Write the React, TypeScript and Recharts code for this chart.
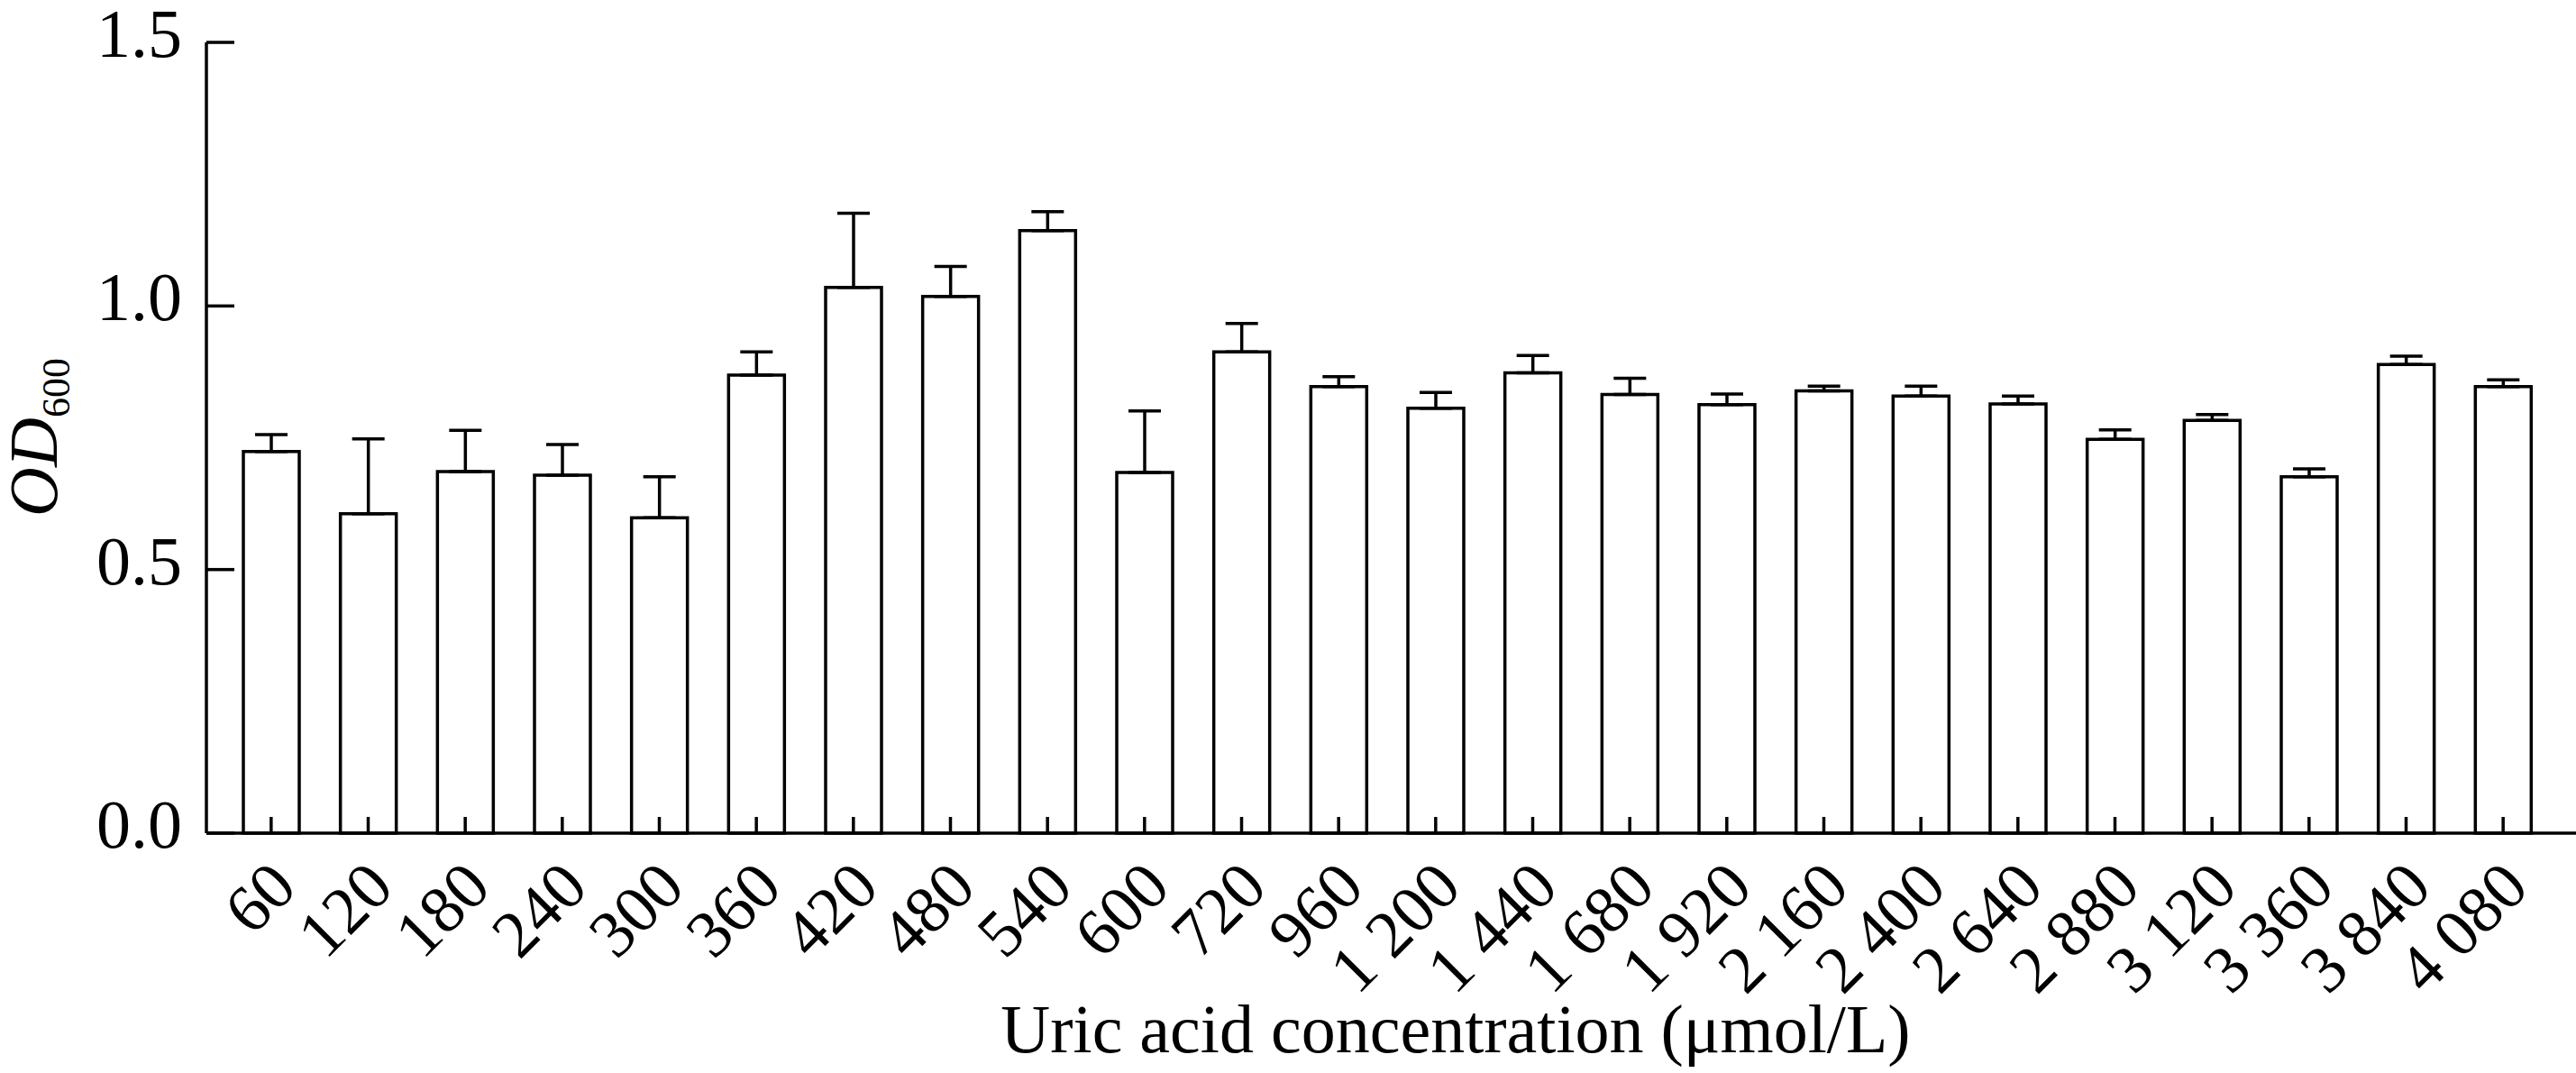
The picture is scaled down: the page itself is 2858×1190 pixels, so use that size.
import React from "react";
import { BarChart, Bar, XAxis, YAxis, ErrorBar } from "recharts";

// uric acid concentration (µmol/L)
const concentrations = [
  "60", "120", "180", "240", "300", "360", "420", "480", "540", "600",
  "720", "960", "1 200", "1 440", "1 680", "1 920", "2 160", "2 400",
  "2 640", "2 880", "3 120", "3 360", "3 840", "4 080",
];

const od600 = [
  0.724, 0.606, 0.686, 0.679, 0.598, 0.869, 1.035, 1.018, 1.143, 0.684,
  0.913, 0.847, 0.806, 0.873, 0.832, 0.813, 0.839, 0.829, 0.814, 0.747,
  0.783, 0.676, 0.889, 0.847,
];

const od600Sd = [
  0.032, 0.142, 0.078, 0.058, 0.078, 0.044, 0.141, 0.057, 0.036, 0.117,
  0.054, 0.019, 0.030, 0.033, 0.031, 0.020, 0.009, 0.019, 0.015, 0.018,
  0.011, 0.015, 0.016, 0.013,
];

const yTicks = [0, 0.5, 1.0, 1.5];

const data = concentrations.map((c, i) => ({
  conc: c,
  od: od600[i],
  err: [0, od600Sd[i]],
}));

const FONT = "'Liberation Serif', 'Times New Roman', serif";
const STROKE = 3.5;

const XTick = (props: any) => {
  const { x, y, payload } = props;
  return (
    <g>
      <line x1={x} x2={x} y1={y} y2={y - 18} stroke="#000" strokeWidth={STROKE} />
      <text
        transform={`translate(${x + 31},${y + 63}) rotate(-45)`}
        textAnchor="end"
        fontFamily={FONT}
        fontSize={74}
        fill="#000"
      >
        {payload.value}
      </text>
    </g>
  );
};

const YTick = (props: any) => {
  const { x, y, payload } = props;
  return (
    <g>
      <line x1={x} x2={x + 31} y1={y} y2={y} stroke="#000" strokeWidth={STROKE} />
      <text x={x - 27} y={y + 16} textAnchor="end" fontFamily={FONT} fontSize={76} fill="#000">
        {Number(payload.value).toFixed(1)}
      </text>
    </g>
  );
};

export default function App() {
  return (
    <div style={{ position: "absolute", left: 0, top: 0, background: "#fff" }}>
      <BarChart
        width={2858}
        height={1190}
        data={data}
        margin={{ top: 47, right: 0, bottom: 0, left: 0 }}
        barSize={62}
      >
        <XAxis
          dataKey="conc"
          height={266}
          interval={0}
          padding={{ left: 18, right: 27 }}
          axisLine={{ stroke: "#000", strokeWidth: STROKE }}
          tickLine={false}
          tickSize={0}
          tickMargin={0}
          tick={<XTick />}
          label={{
            content: () => (
              <text x={1615} y={1167} textAnchor="middle" fontFamily={FONT} fontSize={76} fill="#000">
                Uric acid concentration (μmol/L)
              </text>
            ),
          }}
        />
        <YAxis
          width={229}
          domain={[0, 1.5]}
          ticks={yTicks}
          interval={0}
          axisLine={{ stroke: "#000", strokeWidth: STROKE }}
          tickLine={false}
          tickSize={0}
          tickMargin={0}
          tick={<YTick />}
          label={{
            content: () => (
              <text
                transform="translate(63,485) rotate(-90)"
                textAnchor="middle"
                fontFamily={FONT}
                fontSize={76}
                fill="#000"
              >
                <tspan fontStyle="italic">OD</tspan>
                <tspan fontSize={44} dy={14}>600</tspan>
              </text>
            ),
          }}
        />
        <Bar
          dataKey="od"
          fill="none"
          stroke="#000"
          strokeWidth={STROKE}
          isAnimationActive={false}
        >
          <ErrorBar
            dataKey="err"
            direction="y"
            width={18}
            stroke="#000"
            strokeWidth={STROKE}
            isAnimationActive={false}
          />
        </Bar>
      </BarChart>
    </div>
  );
}
